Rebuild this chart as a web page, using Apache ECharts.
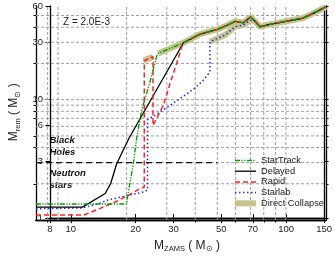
<!DOCTYPE html>
<html><head><meta charset="utf-8">
<script src="https://cdn.jsdelivr.net/npm/echarts@6/dist/echarts.min.js"></script>
<style>html,body{margin:0;padding:0;background:#fff}#c{width:335px;height:258px}</style>
</head><body><div id="c"></div>
<script>
// ---- tick values ----
const xMajorTicks = [8, 10, 20, 30, 50, 70, 100, 150];
const xMinorTicks = [9, 40, 60, 80, 90];
const yMajorTicks = [1, 3, 6, 10, 30, 60];
const yMinorTicks = [2, 4, 5, 7, 8, 9, 20, 40, 50];
const xGridValues = [9, 10, 20, 30, 40, 50, 60, 70, 80, 90, 100];
const yGridValues = [2, 3, 4, 5, 6, 7, 8, 9, 10, 20, 30, 40, 50];
const xRange = [8, 150];
const yRange = [1, 60];

// ---- series values [M_ZAMS, M_rem] ----
const upperBranch = [[35.5, 29.7], [42, 35], [50, 38.3], [55, 41.3], [60, 44.8], [65, 43.5], [70, 48.7]];
const highMassTail = [[73, 45], [77, 40.3], [84, 42], [100, 44.8], [118, 47.4], [131, 51.8], [150, 59]];
const starTrackLow = [[8, 1.36], [20, 1.36], [20.3, 1.66], [21.4, 2.95], [22.1, 4.7], [23.3, 8.2], [25.3, 14], [27.1, 23], [27.5, 24.2]];
const delayedLow = [[8, 1.28], [12.8, 1.28], [16.1, 1.66], [17, 2.0], [18.1, 2.95], [20.5, 4.8]];
const rapidLow = [[8, 1.1], [13, 1.1], [15.3, 1.25], [17.8, 1.41], [20.3, 1.6], [22.5, 1.79], [23.9, 1.88], [23.9, 21.1], [26.1, 22.7], [26.1, 6.1], [29, 9], [31, 13.6], [33.5, 21.3], [34.9, 27.5]];
const starlabLow = [[8, 1.24], [12.8, 1.26], [15.3, 1.38], [16.4, 1.46], [20.3, 1.6], [23.7, 1.71], [24.7, 1.77], [24.7, 6.8], [26.6, 7.4], [30, 8.6], [33.5, 9.9], [36.3, 11], [39.6, 12.4], [43.1, 14.3], [46.4, 17], [46.4, 30.3], [54, 34.4], [59.8, 40.3], [65, 41.7], [69.5, 45.8]];
const directA = [[23.7, 21.1], [26.1, 22.7]];
const directB = [[27.5, 24.2]];
const directC = [[46.4, 30.3], [54, 34.4], [59.8, 40.3], [65, 41.7], [69.5, 45.8], [73, 45]];
const nsLimit = [[8, 3], [50, 3]];

const starTrack = starTrackLow.concat(upperBranch, highMassTail);
const delayed = delayedLow.concat(upperBranch, highMassTail);
const rapid = rapidLow.concat(upperBranch, highMassTail);
const starlab = starlabLow.concat(highMassTail);
const directBFull = directB.concat(upperBranch, highMassTail);

const FONT = 'Liberation Sans, Arial, sans-serif';
const L10 = Math.log10;
const G = {left: 36, top: 6, width: 290, height: 214};
const fmt = v => String(Math.round(Math.pow(10, v)));
const axisLineS = {show: true, lineStyle: {color: '#000', width: 1.3}};

function dispAxis(gridIndex, position, ticks, major, withLabel, extra) {
  const isX = position === 'bottom' || position === 'top';
  const ext = isX ? [L10(xRange[0]), L10(xRange[1])] : [L10(yRange[0]), L10(yRange[1])];
  const ax = {
    type: 'value', gridIndex, position, min: ext[0], max: ext[1],
    axisLine: axisLineS,
    axisTick: {show: true, inside: false, length: major ? 4.5 : 2.5, lineStyle: {color: '#000', width: 1}, customValues: ticks.map(L10)},
    axisLabel: withLabel ? {show: true, customValues: ticks.map(L10), formatter: fmt, fontSize: 9.5, color: '#222', fontFamily: FONT, margin: isX ? 6 : 7} : {show: false},
    splitLine: {show: false}
  };
  return Object.assign(ax, extra || {});
}

const richName = {
  a: {fontSize: 12, color: '#222', fontFamily: FONT, lineHeight: 15},
  b: {fontSize: 7.5, color: '#222', fontFamily: FONT, lineHeight: 9, verticalAlign: 'bottom'}
};

const lineS = (name, data, color, type, width, z) => ({
  name, type: 'line', data, xAxisIndex: 0, yAxisIndex: 0, symbol: 'none', showSymbol: false,
  lineStyle: {color, type, width}, itemStyle: {color}, z, silent: true, animation: false
});

const dcColor = '#c4c48c';
const gridColor = '#a0a0a0';

const gridSeries = []
  .concat(xGridValues.map(v => lineS('gx' + v, [[v, yRange[0]], [v, yRange[1]]], gridColor, [3, 2], 1, 1)))
  .concat(yGridValues.map(v => lineS('gy' + v, [[xRange[0], v], [xRange[1], v]], gridColor, [3, 2], 1, 1)));

const option = {
  animation: false,
  grid: [Object.assign({}, G), Object.assign({}, G), Object.assign({}, G)],
  xAxis: [
    {type: 'log', logBase: 10, min: xRange[0], max: xRange[1], gridIndex: 0, position: 'bottom', axisLine: {show: false}, axisTick: {show: false}, axisLabel: {show: false}, splitLine: {show: false}},
    dispAxis(1, 'bottom', xMajorTicks, true, true, {
      name: '{a|M}{b|ZAMS}{a| ( M}{b|⊙}{a| )}', nameLocation: 'middle', nameGap: 18,
      nameTextStyle: {rich: richName}
    }),
    dispAxis(1, 'top', xMajorTicks, true, false),
    dispAxis(2, 'bottom', xMinorTicks, false, false),
    dispAxis(2, 'top', xMinorTicks, false, false)
  ],
  yAxis: [
    {type: 'log', logBase: 10, min: yRange[0], max: yRange[1], gridIndex: 0, position: 'left', axisLine: {show: false}, axisTick: {show: false}, axisLabel: {show: false}, splitLine: {show: false}},
    dispAxis(1, 'left', yMajorTicks, true, true, {
      name: '{a|M}{b|rem}{a| ( M}{b|⊙}{a| )}', nameLocation: 'middle', nameGap: 21, nameRotate: 90,
      nameTextStyle: {rich: richName}
    }),
    dispAxis(1, 'right', yMajorTicks, true, false),
    dispAxis(2, 'left', yMinorTicks, false, false),
    dispAxis(2, 'right', yMinorTicks, false, false)
  ],
  legend: {
    orient: 'vertical', left: 232, top: 156, padding: 0, itemWidth: 21, itemHeight: 10, itemGap: 1.7,
    textStyle: {fontSize: 9.3, color: '#222', fontFamily: FONT},
    itemStyle: {opacity: 0},
    lineStyle: {width: 'inherit'},
    data: ['StarTrack', 'Delayed', 'Rapid', 'Starlab', 'Direct Collapse']
  },
  graphic: [
    {type: 'text', x: 63, y: 22, style: {text: 'Z = 2.0E-3', fontSize: 10, fill: '#222', fontFamily: FONT, verticalAlign: 'middle'}},
    {type: 'text', x: 49.5, y: 140, style: {text: 'Black', fontSize: 9.5, fontStyle: 'italic', fontWeight: 'bold', fill: '#111', fontFamily: FONT, verticalAlign: 'middle'}},
    {type: 'text', x: 49.5, y: 152, style: {text: 'Holes', fontSize: 9.5, fontStyle: 'italic', fontWeight: 'bold', fill: '#111', fontFamily: FONT, verticalAlign: 'middle'}},
    {type: 'text', x: 49.5, y: 173, style: {text: 'Neutron', fontSize: 9.5, fontStyle: 'italic', fontWeight: 'bold', fill: '#111', fontFamily: FONT, verticalAlign: 'middle'}},
    {type: 'text', x: 49.5, y: 185, style: {text: 'stars', fontSize: 9.5, fontStyle: 'italic', fontWeight: 'bold', fill: '#111', fontFamily: FONT, verticalAlign: 'middle'}}
  ],
  series: gridSeries.concat([
    lineS('Direct Collapse', directA, dcColor, 'solid', 6, 2),
    lineS('Direct Collapse', directBFull, dcColor, 'solid', 6, 2),
    lineS('Direct Collapse', directC, dcColor, 'solid', 6, 2),
    lineS('nsLimit', nsLimit, '#111', [6, 4], 1.2, 3),
    lineS('Starlab', starlab, '#2222ff', [1.5, 2.5], 1.5, 4),
    lineS('Delayed', delayed, '#000', 'solid', 1.3, 5),
    lineS('Rapid', rapid, '#ff2222', [5, 3], 1.5, 6),
    lineS('StarTrack', starTrack, '#00a000', [5, 1.5, 1.2, 1.5, 1.2, 1.5], 1.4, 7)
  ])
};
const chart = echarts.init(document.getElementById('c'), null, {renderer: 'canvas'});
chart.setOption(option);
</script></body></html>
